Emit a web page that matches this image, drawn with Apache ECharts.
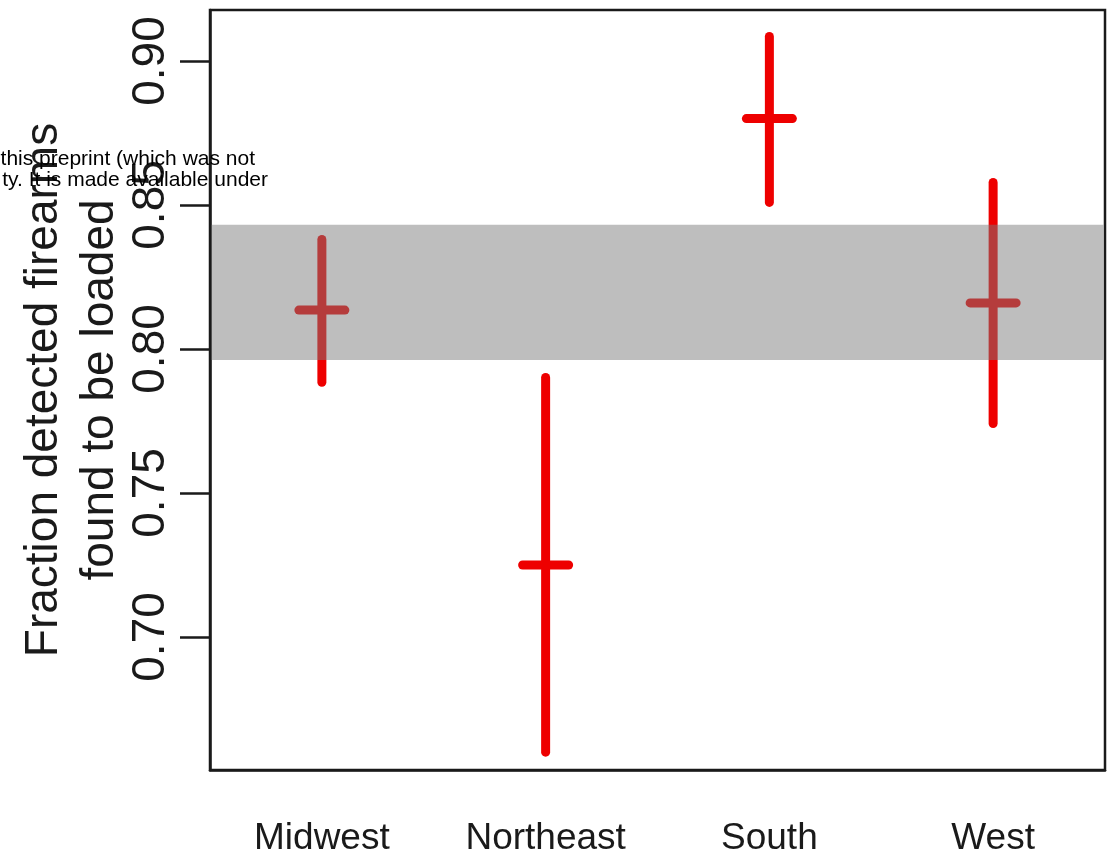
<!DOCTYPE html>
<html>
<head>
<meta charset="utf-8">
<script src="https://cdn.jsdelivr.net/npm/echarts@6/dist/echarts.min.js"></script>
<style>
html,body{margin:0;padding:0;background:#fff;}
#chart{width:1115px;height:859px;}
</style>
</head>
<body>
<div id="chart"></div>
<script>
// ---- data ----
const categories = ['Midwest', 'Northeast', 'South', 'West'];
const estimates = [0.8135, 0.725, 0.880, 0.816];
const lowerCI = [0.7884, 0.660, 0.8509, 0.7741];
const upperCI = [0.838, 0.7901, 0.9085, 0.8578];
const bandRange = [0.7962, 0.8431];
const yTicks = [0.70, 0.75, 0.80, 0.85, 0.90];
const yRange = [0.6538, 0.9177];
const titleLines = ['Fraction detected firearms', 'found to be loaded'];
const overlayLines = ['this preprint (which was not', 'ty. It is made available under'];

const FONT = 'Liberation Sans, Arial, Helvetica, sans-serif';
const errData = categories.map((c, i) => [i, estimates[i], lowerCI[i], upperCI[i]]);

const chart = echarts.init(document.getElementById('chart'));
chart.setOption({
  animation: false,
  backgroundColor: '#ffffff',
  grid: {
    left: 210, top: 10, right: 10, bottom: 89,
    show: true, borderColor: '#1a1a1a', borderWidth: 2.5, backgroundColor: 'transparent'
  },
  xAxis: {
    type: 'category',
    data: categories,
    boundaryGap: true,
    axisLine: { show: true, lineStyle: { color: '#1a1a1a', width: 2.5 } },
    axisTick: { show: false },
    axisLabel: { fontFamily: FONT, fontSize: 37, color: '#1a1a1a', margin: 50 },
    splitLine: { show: false }
  },
  yAxis: {
    type: 'value',
    min: yRange[0],
    max: yRange[1],
    axisLine: { show: true, lineStyle: { color: '#1a1a1a', width: 2.5 } },
    axisTick: { show: true, length: 30, lineStyle: { color: '#1a1a1a', width: 2.5 }, customValues: yTicks },
    axisLabel: {
      fontFamily: FONT, fontSize: 46, color: '#1a1a1a', rotate: 90, margin: 36,
      customValues: yTicks,
      formatter: v => v.toFixed(2)
    },
    splitLine: { show: false }
  },
  series: [
    {
      type: 'custom',
      name: 'ci',
      z: 2,
      data: errData,
      encode: { x: 0, y: [1, 2, 3] },
      renderItem: function (params, api) {
        const idx = api.value(0);
        const pc = api.coord([idx, api.value(1)]);
        const pl = api.coord([idx, api.value(2)]);
        const ph = api.coord([idx, api.value(3)]);
        const half = 23;
        const style = { stroke: '#ee0000', lineWidth: 9, lineCap: 'round' };
        return {
          type: 'group',
          children: [
            { type: 'line', shape: { x1: pl[0], y1: pl[1], x2: ph[0], y2: ph[1] }, style: style },
            { type: 'line', shape: { x1: pc[0] - half, y1: pc[1], x2: pc[0] + half, y2: pc[1] }, style: style }
          ]
        };
      }
    },
    {
      type: 'custom',
      name: 'band',
      z: 5,
      data: [[0, bandRange[0], bandRange[1]]],
      encode: { x: 0, y: [1, 2] },
      renderItem: function (params, api) {
        const cs = params.coordSys;
        const yl = api.coord([0, api.value(1)])[1];
        const yh = api.coord([0, api.value(2)])[1];
        return {
          type: 'rect',
          shape: { x: cs.x + 1.5, y: yh, width: cs.width - 3, height: yl - yh },
          style: { fill: 'rgba(122,122,122,0.49)' }
        };
      }
    }
  ],
  graphic: [
    {
      type: 'text',
      x: 72, y: 390,
      rotation: Math.PI / 2,
      z: 10,
      style: {
        text: titleLines.join('\n'),
        fontFamily: FONT, fontSize: 46, lineHeight: 56,
        fill: '#1a1a1a', align: 'center', verticalAlign: 'middle'
      }
    },
    {
      type: 'text',
      x: 255, y: 159,
      z: 20,
      style: {
        text: overlayLines[0],
        fontFamily: FONT, fontSize: 21, fill: '#000', align: 'right', verticalAlign: 'middle'
      }
    },
    {
      type: 'text',
      x: 268, y: 180,
      z: 20,
      style: {
        text: overlayLines[1],
        fontFamily: FONT, fontSize: 21, fill: '#000', align: 'right', verticalAlign: 'middle'
      }
    }
  ]
});
</script>
</body>
</html>
